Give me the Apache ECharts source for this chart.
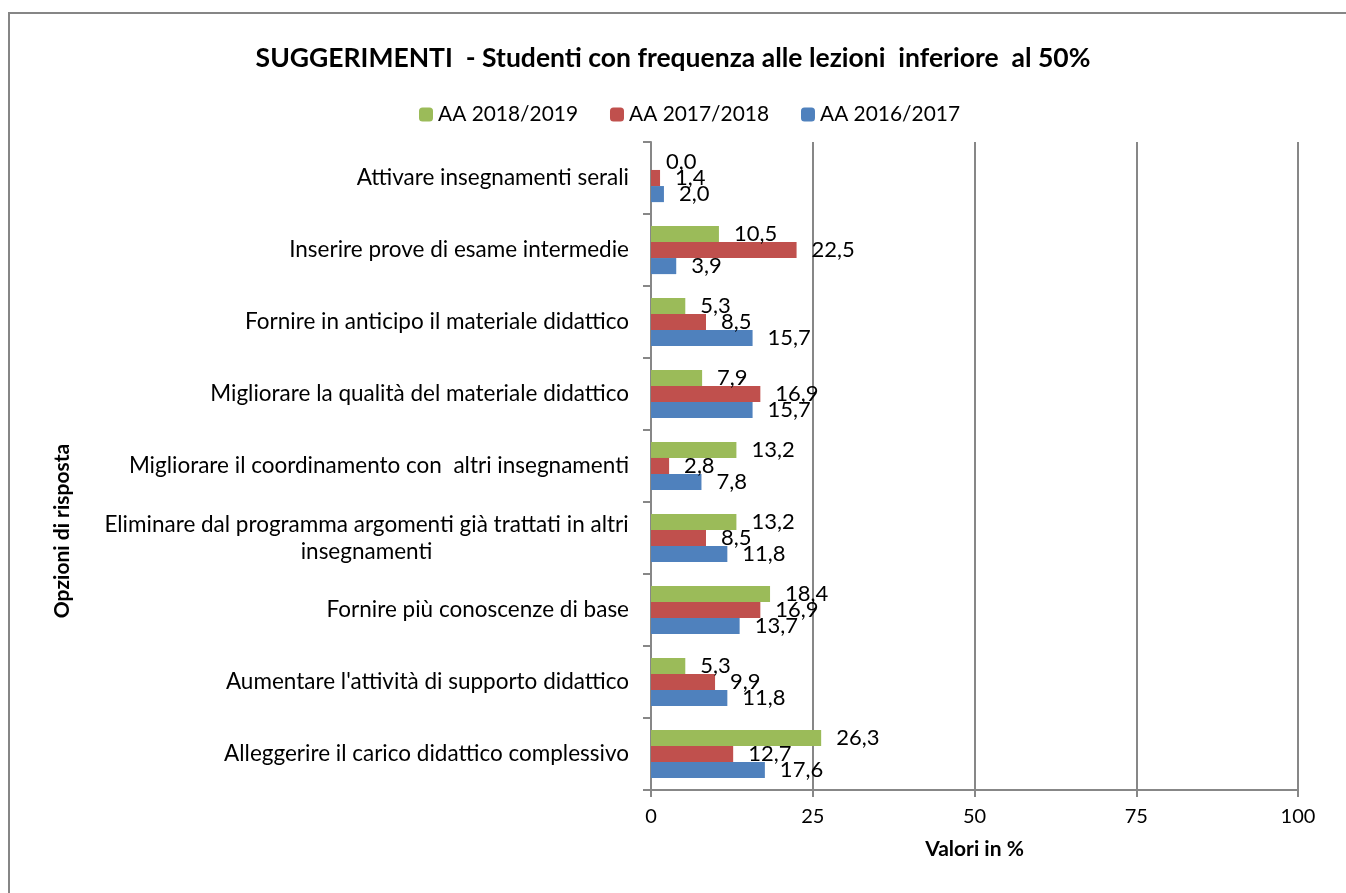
<!DOCTYPE html>
<html>
<head>
<meta charset="utf-8">
<script src="https://cdn.jsdelivr.net/npm/echarts@6/dist/echarts.min.js"></script>
<style>
  html, body { margin: 0; padding: 0; background: #fff; }
  #chart { width: 1346px; height: 893px; }
</style>
</head>
<body>
<div id="chart"></div>
<script>
// Response options, listed top to bottom
const categories = [
  "Attivare insegnamenti serali",
  "Inserire prove di esame intermedie",
  "Fornire in anticipo il materiale didattico",
  "Migliorare la qualità del materiale didattico",
  "Migliorare il coordinamento con  altri insegnamenti",
  "Eliminare dal programma argomenti già trattati in altri\ninsegnamenti",
  "Fornire più conoscenze di base",
  "Aumentare l'attività di supporto didattico",
  "Alleggerire il carico didattico complessivo"
];

// Percentages per academic year
const aa2018_2019 = [0.0, 10.5, 5.3, 7.9, 13.2, 13.2, 18.4, 5.3, 26.3];
const aa2017_2018 = [1.4, 22.5, 8.5, 16.9, 2.8, 8.5, 16.9, 9.9, 12.7];
const aa2016_2017 = [2.0, 3.9, 15.7, 15.7, 7.8, 11.8, 13.7, 11.8, 17.6];

const seriesNames = ["AA 2018/2019", "AA 2017/2018", "AA 2016/2017"];
const seriesColors = ["#9BBB59", "#C0504D", "#4F81BD"];
const xTicks = [0, 25, 50, 75, 100];

const FONT = "Lato, 'Open Sans', sans-serif";
const LABEL_SIZE = 22.5;

// text measuring helpers
const measureCtx = document.createElement("canvas").getContext("2d");
function textWidth(t, size, weight) {
  measureCtx.font = (weight || "normal") + " " + size + "px " + FONT;
  return measureCtx.measureText(t).width;
}

// legend: each entry text about 140px wide, entries spread over 414..955
const LEGEND_LEFT = 414, LEGEND_RIGHT = 955, LEGEND_ICON = 14;
const legendFontSize = Math.round(22 * 140 / textWidth(seriesNames[0], 22) * 10) / 10;
const legendTextW = seriesNames.map(n => textWidth(n, legendFontSize));
const legendGap = Math.max(10, ((LEGEND_RIGHT - LEGEND_LEFT) -
  legendTextW.reduce((a, b) => a + b + LEGEND_ICON + 5, 0)) / 2);

const chart = echarts.init(document.getElementById("chart"), null, { renderer: "canvas" });

const seriesData = [aa2018_2019, aa2017_2018, aa2016_2017];

const option = {
  backgroundColor: "#ffffff",
  animation: false,
  textStyle: { fontFamily: FONT },
  title: {
    text: "SUGGERIMENTI  - Studenti con frequenza alle lezioni  inferiore  al 50%",
    left: "center",
    top: 40,
    textStyle: { fontFamily: FONT, fontSize: 26.5, fontWeight: "bold", color: "#000" }
  },
  legend: {
    data: seriesNames,
    top: 99,
    left: LEGEND_LEFT,
    itemWidth: LEGEND_ICON,
    itemHeight: LEGEND_ICON,
    itemGap: legendGap,
    textStyle: { fontFamily: FONT, fontSize: legendFontSize, color: "#000" }
  },
  grid: { left: 651, right: 48, top: 142, bottom: 103, containLabel: false },
  xAxis: {
    type: "value",
    min: 0,
    max: 100,
    interval: 25,
    name: "Valori in %",
    nameLocation: "middle",
    nameGap: 49,
    nameTextStyle: { fontFamily: FONT, fontSize: 21, fontWeight: "bold", color: "#000" },
    axisLine: { show: true, lineStyle: { color: "#878787", width: 2 } },
    axisTick: { show: true, length: 7, lineStyle: { color: "#878787", width: 2 } },
    axisLabel: {
      fontFamily: FONT, fontSize: 20, color: "#000", margin: 17,
      formatter: v => xTicks.includes(v) ? String(v) : ""
    },
    splitLine: { show: true, lineStyle: { color: "#878787", width: 2 } }
  },
  yAxis: {
    type: "category",
    inverse: true,
    data: categories,
    axisLine: { show: true, lineStyle: { color: "#878787", width: 2 } },
    axisTick: { show: true, length: 8, lineStyle: { color: "#878787", width: 2 } },
    axisLabel: {
      fontFamily: FONT, fontSize: LABEL_SIZE, color: "#000", margin: 22, lineHeight: 27,
      formatter: function (v) {
        const parts = v.split("\n");
        if (parts.length === 1) return v;
        return parts.map(p => "{c|" + p + "}").join("\n");
      },
      rich: {
        // wrapped label: lines centred within the width of the longest line
        c: { fontFamily: FONT, fontSize: LABEL_SIZE, color: "#000", align: "center", lineHeight: 27,
             width: Math.ceil(textWidth(categories[5].split("\n")[0], LABEL_SIZE)) }
      }
    }
  },
  graphic: [
    {
      type: "rect",
      shape: { x: 9, y: 13, width: 1400, height: 1000 },
      style: { fill: "none", stroke: "#868686", lineWidth: 2 },
      silent: true
    },
    {
      type: "text",
      x: 62, y: 531,
      rotation: Math.PI / 2,
      style: {
        text: "Opzioni di risposta",
        fontFamily: FONT, fontSize: 21, fontWeight: "bold", fill: "#000",
        align: "center", verticalAlign: "middle"
      }
    }
  ],
  series: seriesNames.map((name, i) => ({
    name: name,
    type: "bar",
    data: seriesData[i],
    barGap: "0%",
    barCategoryGap: "33%",
    itemStyle: { color: seriesColors[i] },
    label: {
      show: true,
      position: "right",
      distance: 15,
      fontFamily: FONT,
      fontSize: 22,
      color: "#000",
      formatter: p => p.value.toFixed(1).replace(".", ",")
    }
  }))
};

chart.setOption(option);
</script>
</body>
</html>
